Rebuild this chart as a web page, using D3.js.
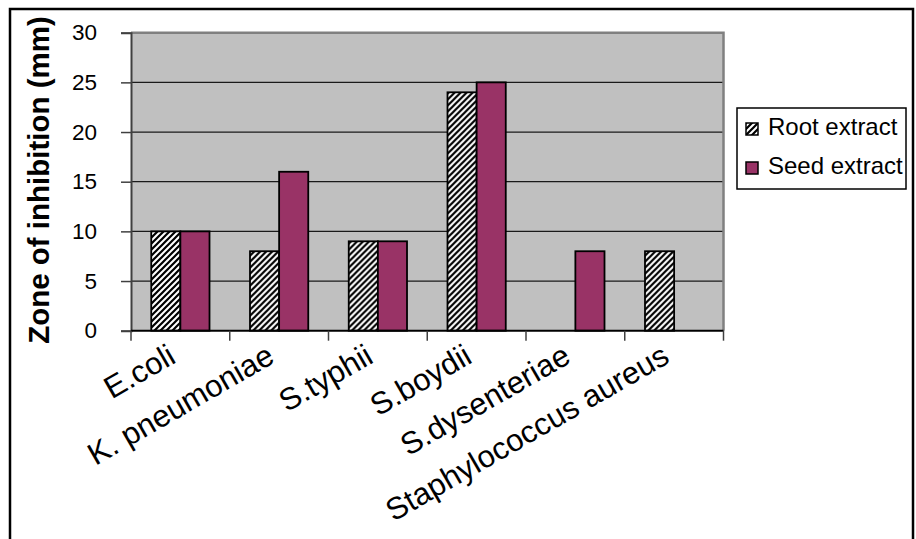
<!DOCTYPE html>
<html>
<head>
<meta charset="utf-8">
<script src="https://cdn.jsdelivr.net/npm/d3@7/dist/d3.min.js"></script>
<style>
  html, body { margin: 0; padding: 0; background: #fff; }
  svg { display: block; font-family: "Liberation Sans", Arial, sans-serif; }
</style>
</head>
<body>
<svg id="chart" width="916" height="539"></svg>
<script>
// Zone of inhibition (mm) per organism for the two extracts
const categories = ["E.coli", "K. pneumoniae", "S.typhii", "S.boydii", "S.dysenteriae", "Staphylococcus aureus"];
const seriesNames = ["Root extract", "Seed extract"];
const rootExtract = [10, 8, 9, 24, null, 8];
const seedExtract = [10, 16, 9, 25, 8, null];
const yTicks = [0, 5, 10, 15, 20, 25, 30];

const svg = d3.select("#chart");
const W = 916, H = 539;
const plot = { left: 131, right: 723.5, top: 32.7, bottom: 330.7 };

svg.append("rect").attr("width", W).attr("height", H).attr("fill", "#fff");

// diagonal hatch fill for the root series
const defs = svg.append("defs");
const hatch = defs.append("pattern")
  .attr("id", "hatch").attr("patternUnits", "userSpaceOnUse")
  .attr("width", 6).attr("height", 6);
hatch.append("rect").attr("width", 6).attr("height", 6).attr("fill", "#fff");
hatch.append("path")
  .attr("d", "M-1,1 L1,-1 M0,6 L6,0 M5,7 L7,5")
  .attr("stroke", "#000").attr("stroke-width", 2.2);

const fills = ["url(#hatch)", "#993366"];

const x = d3.scaleBand().domain(categories).range([plot.left, plot.right]).padding(0);
const groupPad = 0.205;
const xs = d3.scaleBand().domain(seriesNames)
  .range([x.bandwidth() * groupPad, x.bandwidth() * (1 - groupPad)]).padding(0);
const y = d3.scaleLinear().domain([0, 30]).range([plot.bottom, plot.top]);

// plot background
svg.append("rect")
  .attr("x", plot.left).attr("y", plot.top)
  .attr("width", plot.right - plot.left).attr("height", plot.bottom - plot.top)
  .attr("fill", "#c0c0c0");

// horizontal gridlines
svg.append("g").selectAll("line")
  .data(yTicks.filter(v => v > 0 && v < 30)).join("line")
  .attr("x1", plot.left).attr("x2", plot.right)
  .attr("y1", d => y(d)).attr("y2", d => y(d))
  .attr("stroke", "#1a1a1a").attr("stroke-width", 1.2);

// plot frame (top and right)
svg.append("path")
  .attr("d", `M${plot.left},${plot.top} H${plot.right} V${plot.bottom}`)
  .attr("fill", "none").attr("stroke", "#808080").attr("stroke-width", 2.5);

// bars
const rows = categories.map((c, i) => ({ c, vals: [rootExtract[i], seedExtract[i]] }));
const groups = svg.append("g").selectAll("g").data(rows).join("g")
  .attr("transform", d => `translate(${x(d.c)},0)`);
groups.selectAll("rect")
  .data(d => d.vals.map((v, j) => ({ s: seriesNames[j], v, j })).filter(e => e.v != null))
  .join("rect")
  .attr("x", e => xs(e.s)).attr("width", xs.bandwidth())
  .attr("y", e => y(e.v)).attr("height", e => y(0) - y(e.v))
  .attr("fill", e => fills[e.j])
  .attr("stroke", "#000").attr("stroke-width", 1.8);

// y axis
const yAxis = d3.axisLeft(y).tickValues(yTicks).tickSize(10).tickPadding(24);
const gy = svg.append("g").attr("transform", `translate(${plot.left},0)`).call(yAxis);
gy.select(".domain").attr("stroke", "#404040").attr("stroke-width", 2);
gy.selectAll(".tick line").attr("stroke", "#404040").attr("stroke-width", 1.5);
gy.selectAll(".tick text")
  .attr("font-size", 22.5).attr("fill", "#000")
  .attr("font-family", "'Liberation Sans', Arial, sans-serif");

// x axis with ticks at category boundaries
const gx = svg.append("g");
gx.append("line")
  .attr("x1", plot.left).attr("x2", plot.right)
  .attr("y1", plot.bottom).attr("y2", plot.bottom)
  .attr("stroke", "#000").attr("stroke-width", 2);
const bounds = categories.map(c => x(c)).concat([plot.right]);
gx.selectAll("line.tk").data(bounds).join("line").attr("class", "tk")
  .attr("x1", d => d).attr("x2", d => d)
  .attr("y1", plot.bottom).attr("y2", plot.bottom + 10)
  .attr("stroke", "#404040").attr("stroke-width", 1.5);
gx.selectAll("text").data(categories).join("text")
  .attr("transform", d => `translate(${x(d) + x.bandwidth() / 2 - 3},${plot.bottom + 31}) rotate(-30)`)
  .attr("text-anchor", "end")
  .attr("font-size", 31)
  .attr("fill", "#000")
  .text(d => d);

// y axis title
svg.append("text")
  .attr("transform", `translate(49,180) rotate(-90)`)
  .attr("text-anchor", "middle")
  .attr("font-size", 29.5).attr("font-weight", "bold")
  .text("Zone of inhibition (mm)");

// legend
const lg = svg.append("g");
lg.append("rect")
  .attr("x", 737).attr("y", 108).attr("width", 169).attr("height", 81)
  .attr("fill", "#fff").attr("stroke", "#000").attr("stroke-width", 1.5);
const items = lg.selectAll("g.item").data(seriesNames).join("g").attr("class", "item")
  .attr("transform", (d, i) => `translate(746,${123 + i * 39})`);
items.append("rect").attr("width", 12).attr("height", 12)
  .attr("fill", (d, i) => fills[i]).attr("stroke", "#000").attr("stroke-width", 1.5);
items.append("text").attr("x", 22).attr("y", 11.5)
  .attr("font-size", 24).attr("fill", "#000").text(d => d);

// outer frame
svg.append("rect")
  .attr("x", 10).attr("y", 9).attr("width", 903).attr("height", 532)
  .attr("fill", "none").attr("stroke", "#000").attr("stroke-width", 2.5);
</script>
</body>
</html>
